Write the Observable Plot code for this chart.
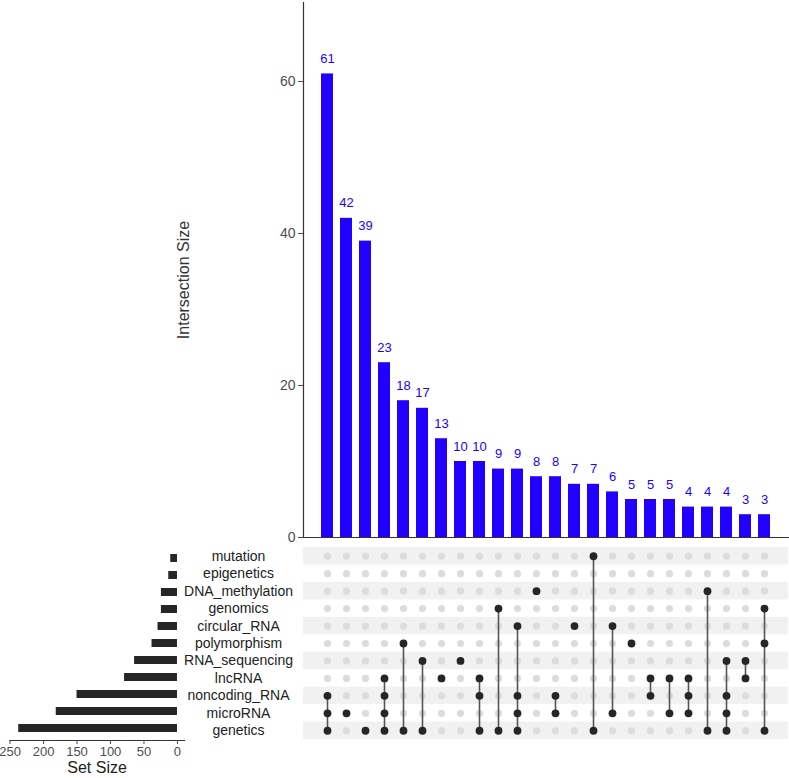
<!DOCTYPE html>
<html><head><meta charset="utf-8">
<script src="https://cdn.jsdelivr.net/npm/d3@7"></script>
<script src="https://cdn.jsdelivr.net/npm/@observablehq/plot@0.6"></script>
<style>
body{margin:0;background:#fff;}
#chart{position:relative;width:789px;height:778px;background:#fff;font-family:"Liberation Sans",Arial,sans-serif;}
#chart svg{position:absolute;left:0;}
</style></head><body><div id="chart"></div>
<script>
const sets = ["mutation","epigenetics","DNA_methylation","genomics","circular_RNA","polymorphism","RNA_sequencing","lncRNA","noncoding_RNA","microRNA","genetics"];
const setSizes = [10, 13, 24, 24, 29, 38, 64, 79, 150, 181, 237];
const intersectionSizes = [61,42,39,23,18,17,13,10,10,9,9,8,8,7,7,6,5,5,5,4,4,4,3,3];
const intersectionMembers = [
 ["noncoding_RNA","microRNA","genetics"],
 ["microRNA"],
 ["genetics"],
 ["lncRNA","noncoding_RNA","microRNA","genetics"],
 ["polymorphism","genetics"],
 ["RNA_sequencing","genetics"],
 ["lncRNA"],
 ["RNA_sequencing"],
 ["lncRNA","noncoding_RNA","genetics"],
 ["genomics","genetics"],
 ["circular_RNA","noncoding_RNA","microRNA","genetics"],
 ["DNA_methylation"],
 ["noncoding_RNA","microRNA"],
 ["circular_RNA"],
 ["mutation","genetics"],
 ["circular_RNA","microRNA"],
 ["polymorphism"],
 ["lncRNA","noncoding_RNA"],
 ["lncRNA","microRNA"],
 ["lncRNA","noncoding_RNA","microRNA"],
 ["DNA_methylation","genetics"],
 ["RNA_sequencing","noncoding_RNA","microRNA","genetics"],
 ["RNA_sequencing","lncRNA"],
 ["genomics","polymorphism","genetics"]
];
const sizeTicks = [0,50,100,150,200,250];
const intersectionTicks = [0,20,40,60];

const FONT = '"Liberation Sans", Arial, sans-serif';
const barColor = "#2200ff";
const ids = d3.range(intersectionSizes.length);
const bars = ids.map(i => ({id: i, size: intersectionSizes[i]}));
const xBand = () => ({type: "band", domain: ids, range: [313.3, 778.4], paddingInner: 0.38, paddingOuter: 0.19, axis: null});
const svgStyle = {background: "transparent", fontFamily: FONT, overflow: "visible"};

const topPlot = Plot.plot({
  width: 789, height: 540, marginTop: 2, marginBottom: 3, marginLeft: 303, marginRight: 0,
  style: svgStyle,
  x: xBand(),
  y: {domain: [0, 70.4]},
  marks: [
    Plot.barY(bars, {x: "id", y: "size", fill: barColor}),
    Plot.text(bars, {x: "id", y: "size", text: d => String(d.size), dy: -15, fill: barColor, fontSize: 13}),
    Plot.ruleY([0], {stroke: "#333", strokeWidth: 1.2}),
    Plot.frame({anchor: "left", stroke: "#333", strokeWidth: 1.2}),
    Plot.axisY({ticks: intersectionTicks, tickSize: 5, tickPadding: 3, fontSize: 14, color: "#4d4d4d", label: null}),
    Plot.text(["Intersection Size"], {frameAnchor: "left", textAnchor: "middle", rotate: -90, dx: -120, dy: 10, fontSize: 16, fill: "#333"})
  ]
});
topPlot.style.top = "0px";

const cells = [];
const links = [];
ids.forEach(i => {
  const rows = [];
  sets.forEach((s, j) => {
    const active = intersectionMembers[i].includes(s);
    cells.push({id: i, row: j, active});
    if (active) rows.push(j);
  });
  if (rows.length > 1) links.push({id: i, y1: d3.min(rows), y2: d3.max(rows)});
});
const stripeRows = d3.range(sets.length).filter(j => j % 2 === 0);

const matrixPlot = Plot.plot({
  width: 789, height: 200, marginTop: 0, marginBottom: 0, marginLeft: 303, marginRight: 1,
  style: svgStyle,
  x: xBand(),
  y: {domain: [-0.5, sets.length - 0.5], range: [7, 199]},
  marks: [
    Plot.rect(stripeRows, {y1: j => j - 0.5, y2: j => j + 0.5, fill: "#f1f1f1"}),
    Plot.dot(cells.filter(d => !d.active), {x: "id", y: "row", r: 3.6, fill: "#dcdcdc"}),
    Plot.ruleX(links, {x: "id", y1: "y1", y2: "y2", stroke: "#555", strokeWidth: 1.6}),
    Plot.dot(cells.filter(d => d.active), {x: "id", y: "row", r: 3.9, fill: "#262626"}),
    Plot.axisY({ticks: d3.range(sets.length), tickFormat: j => sets[j], tickSize: 0, tickPadding: 65, textAnchor: "middle", fontSize: 14, color: "#222", label: null})
  ]
});
matrixPlot.style.top = "540px";

const setData = sets.map((s, j) => ({set: s, size: setSizes[j]}));
const setPlot = Plot.plot({
  width: 789, height: 238, marginTop: 0, marginBottom: 38, marginLeft: 9.2, marginRight: 605,
  style: svgStyle,
  x: {domain: [-10.5, 250.5], reverse: true, axis: null},
  y: {type: "band", domain: sets, range: [7, 199], paddingInner: 0.53, paddingOuter: 0.265, axis: null},
  marks: [
    Plot.barX(setData, {x: "size", y: "set", fill: "#262626"}),
    Plot.frame({anchor: "bottom", stroke: "#333", strokeWidth: 1.2}),
    Plot.axisX({ticks: sizeTicks, tickSize: 4, tickPadding: 2, fontSize: 13, color: "#4d4d4d", label: null}),
    Plot.text(["Set Size"], {frameAnchor: "bottom", dy: 32.5, fontSize: 16, fill: "#222"})
  ]
});
setPlot.style.top = "540px";

const chart = document.getElementById("chart");
chart.append(topPlot, setPlot, matrixPlot);
</script>
</body></html>
